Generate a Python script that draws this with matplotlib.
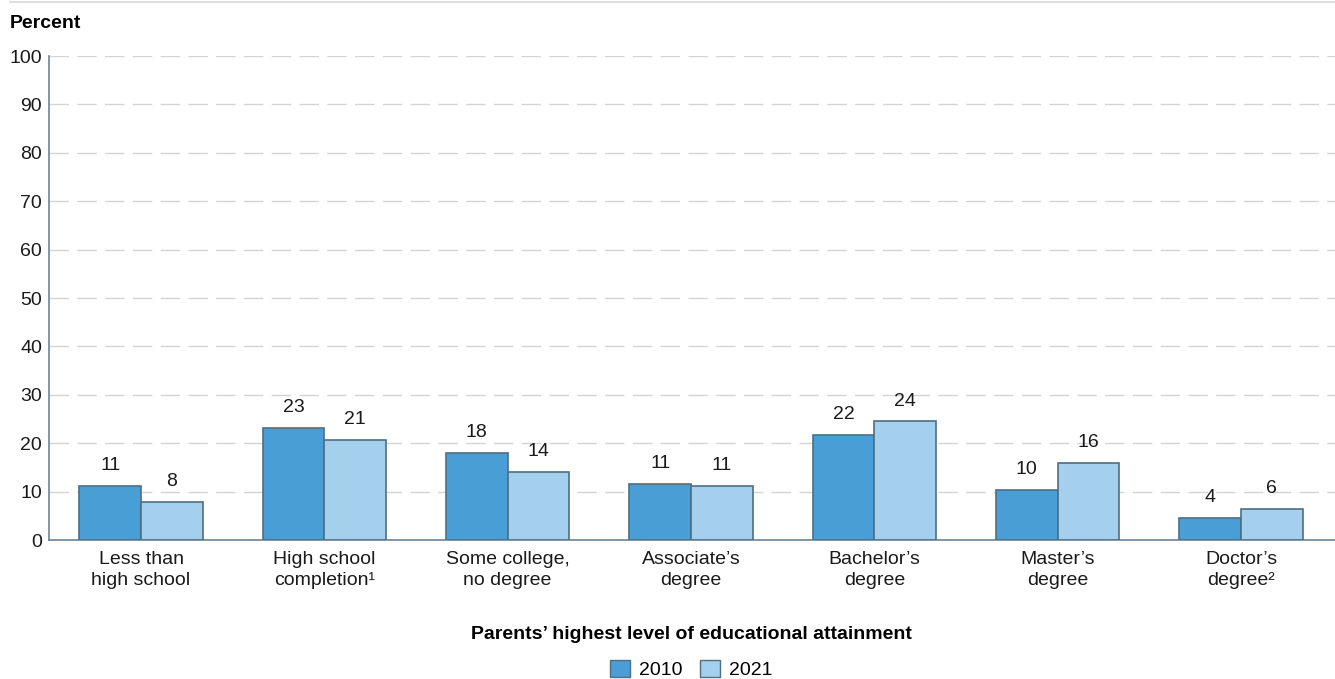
import numpy as np
from matplotlib import pyplot as plt
from matplotlib.patches import Patch
from matplotlib.lines import Line2D

plt.rcParams['font.family'] = ['Liberation Sans', 'DejaVu Sans']

categories = ["Less than\nhigh school", "High school\ncompletion\u00b9", "Some college,\nno degree",
              "Associate\u2019s\ndegree", "Bachelor\u2019s\ndegree", "Master\u2019s\ndegree",
              "Doctor\u2019s\ndegree\u00b2"]
vals_2010 = [11.2, 23.1, 18.0, 11.6, 21.7, 10.3, 4.5]
vals_2021 = [7.8, 20.6, 14.0, 11.2, 24.5, 16.0, 6.4]
labels_2010 = ["11", "23", "18", "11", "22", "10", "4"]
labels_2021 = ["8", "21", "14", "11", "24", "16", "6"]
yticks = [0, 10, 20, 30, 40, 50, 60, 70, 80, 90, 100]

c2010 = "#499ed6"
c2021 = "#a4d0ee"
edge = "#4e6e82"
fs = 14

fig = plt.figure(figsize=(13.35, 6.79), dpi=100)
ax = fig.add_axes([0.0367, 0.2047, 0.9633, 0.7128])

x = np.arange(len(categories))
w = 0.336
ax.bar(x - w / 2, vals_2010, w, color=c2010, edgecolor=edge, linewidth=1.2, zorder=3)
ax.bar(x + w / 2, vals_2021, w, color=c2021, edgecolor=edge, linewidth=1.2, zorder=3)

for xi, v, t in zip(x - w / 2, vals_2010, labels_2010):
    ax.text(xi, v + 4.2, t, ha='center', va='center', fontsize=fs, color='#1a1a1a')
for xi, v, t in zip(x + w / 2, vals_2021, labels_2021):
    ax.text(xi, v + 4.2, t, ha='center', va='center', fontsize=fs, color='#1a1a1a')

ax.set_xlim(-0.502, 6.513)
ax.set_ylim(0, 100)
ax.set_yticks(yticks)
ax.set_xticks(x)
ax.set_xticklabels(categories, fontsize=fs, color='#1a1a1a', linespacing=1.3)
ax.tick_params(axis='y', length=0, pad=5, labelsize=fs, labelcolor='#1a1a1a')
ax.tick_params(axis='x', length=0, pad=8)
ax.grid(axis='y', color='#d4d4d4', linestyle=(0, (14, 6)), linewidth=1.0, zorder=0)
for s in ['top', 'right']:
    ax.spines[s].set_visible(False)
ax.spines['left'].set_color('#6a8596')
ax.spines['bottom'].set_color('#6a8596')
ax.spines['left'].set_linewidth(1.2)
ax.spines['bottom'].set_linewidth(1.2)

fig.text(0.0075, 0.965, "Percent", fontsize=fs, fontweight='bold', ha='left', va='center')
fig.add_artist(Line2D([0.0075, 1.0], [0.997, 0.997], color='#d8d8d8', linewidth=1.2))

fig.text(0.518, 0.066, "Parents\u2019 highest level of educational attainment",
         fontsize=fs, fontweight='bold', ha='center', va='center')

handles = [Patch(facecolor=c2010, edgecolor=edge, label="2010"),
           Patch(facecolor=c2021, edgecolor=edge, label="2021")]
fig.legend(handles=handles, loc='center', bbox_to_anchor=(0.518, 0.014), ncol=2, frameon=False,
           fontsize=fs, handlelength=1.0, handleheight=1.0, handletextpad=0.5, columnspacing=0.9)

fig.savefig("out.png", dpi=100)
